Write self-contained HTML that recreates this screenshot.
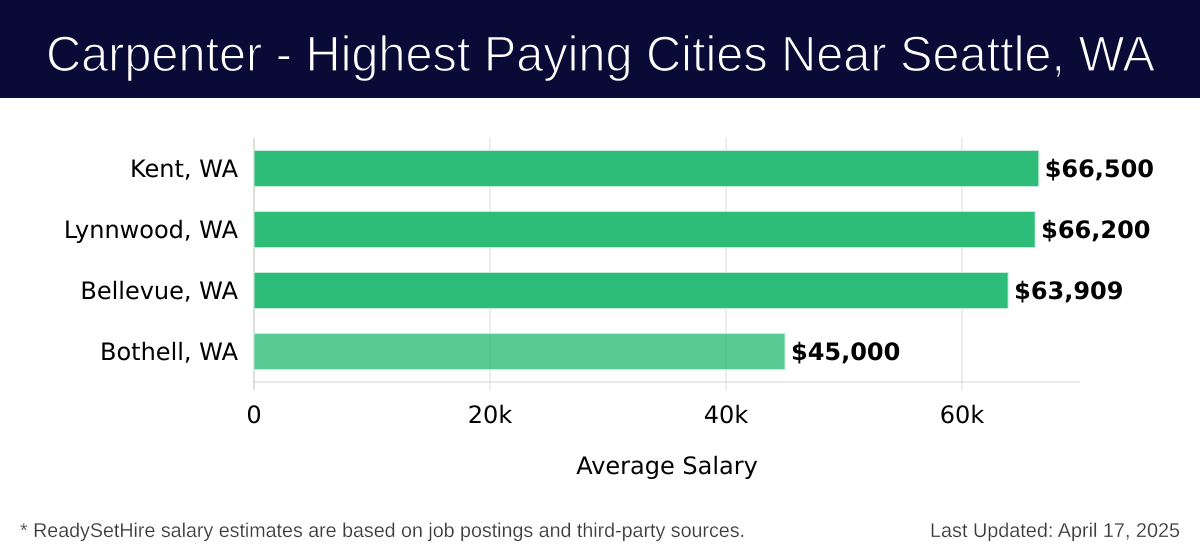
<!DOCTYPE html>
<html lang="en">
<head>
<meta charset="utf-8">
<title>Carpenter - Highest Paying Cities Near Seattle, WA</title>
<style>
html,body{margin:0;padding:0;background:#fff;width:1200px;height:558px;overflow:hidden}
svg{display:block}
.dj{font-family:"DejaVu Sans",sans-serif;fill:#000;text-rendering:geometricPrecision}
.lib{font-family:"Liberation Sans",sans-serif;text-rendering:geometricPrecision}
</style>
</head>
<body>
<svg id="chart" xmlns="http://www.w3.org/2000/svg" width="1200" height="558" viewBox="0 0 1200 558">
  <rect x="0" y="0" width="1200" height="98" fill="#0a0a36"/>
  <text class="lib" x="46" y="71" font-size="50" fill="#fff" stroke="#0a0a36" stroke-width="1.3" textLength="1109" lengthAdjust="spacingAndGlyphs">Carpenter - Highest Paying Cities Near Seattle, WA</text>
  <g id="grid"></g>
  <g id="bars"></g>
  <g id="labels"></g>
  <text class="dj" x="667" y="474" font-size="24" text-anchor="middle">Average Salary</text>
  <text class="lib" x="20" y="537" font-size="20" fill="#3a3a3a" stroke="#fff" stroke-width="0.2" textLength="725" lengthAdjust="spacingAndGlyphs">* ReadySetHire salary estimates are based on job postings and third-party sources.</text>
  <text class="lib" x="930" y="537" font-size="20" fill="#3a3a3a" stroke="#fff" stroke-width="0.2" textLength="250" lengthAdjust="spacingAndGlyphs">Last Updated: April 17, 2025</text>
</svg>
<script>
const categories = ["Kent, WA", "Lynnwood, WA", "Bellevue, WA", "Bothell, WA"];
const salaries = [66500, 66200, 63909, 45000];
const valueLabels = ["$66,500", "$66,200", "$63,909", "$45,000"];
const barOpacities = [1, 1, 1, 0.8];
const xTicks = [0, 20000, 40000, 60000];
const xTickLabels = ["0", "20k", "40k", "60k"];
const xMax = 70000;

const NS = "http://www.w3.org/2000/svg";
const plot = {left: 254, right: 1080, top: 138, bottom: 382};
const xScale = v => plot.left + (v / xMax) * (plot.right - plot.left);
const band = (plot.bottom - plot.top) / categories.length;
const yCenter = i => plot.top + band * (i + 0.5);
const barHeight = 36;

function make(parent, tag, attrs, text) {
  const el = document.createElementNS(NS, tag);
  for (const k in attrs) el.setAttribute(k, attrs[k]);
  if (text !== undefined) el.textContent = text;
  parent.appendChild(el);
  return el;
}

const grid = document.getElementById("grid");
const bars = document.getElementById("bars");
const labels = document.getElementById("labels");

xTicks.forEach((t, i) => {
  const x = Math.round(xScale(t));
  const line = make(grid, "line", {x1: x, x2: x, y1: plot.top, y2: plot.bottom + 8, stroke: i === 0 ? "#d4d4d4" : "#e6e6e6", "stroke-width": 1.5});
  
  
  const tick = make(labels, "text", {x: x, y: 423, "font-size": 24, "text-anchor": "middle", class: "dj"}, xTickLabels[i]);
  
  
});

const axisLine = make(grid, "line", {x1: plot.left, x2: plot.right, y1: plot.bottom, y2: plot.bottom, stroke: "#d4d4d4", "stroke-width": 1});



categories.forEach((c, i) => {
  const yc = yCenter(i);
  const bar = make(bars, "rect", {
    x: plot.left,
    y: yc - barHeight / 2,
    width: xScale(salaries[i]) - plot.left,
    height: barHeight,
    fill: "#2ebd78",
    "fill-opacity": barOpacities[i],
    stroke: "#c4ecd9",
    "stroke-width": 1
  });
  
  

  const cat = make(labels, "text", {x: 238, y: yc + 8.5, "font-size": 24, "text-anchor": "end", class: "dj"}, c);
  
  

  const val = make(labels, "text", {x: xScale(salaries[i]) + 6, y: yc + 8.5, "font-size": 24, "font-weight": "bold", class: "dj"}, valueLabels[i]);
  
  
});
</script>
</body>
</html>
